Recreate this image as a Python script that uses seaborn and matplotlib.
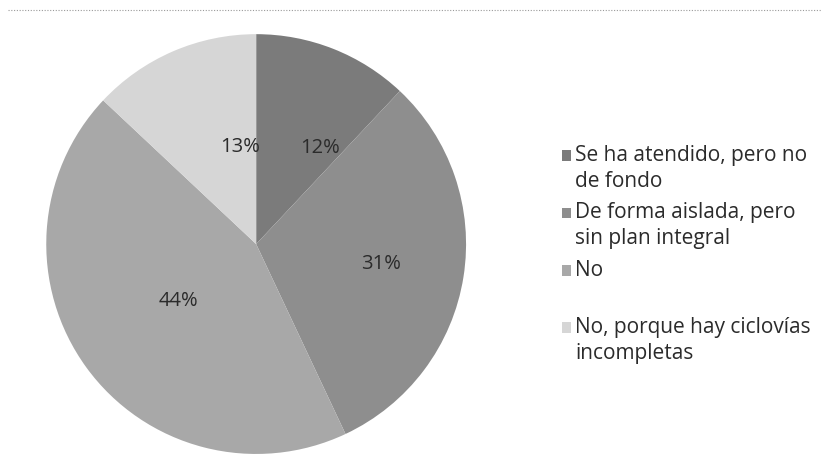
import matplotlib
matplotlib.use("Agg")
import matplotlib.pyplot as plt
import seaborn as sns
import numpy as np
from matplotlib.lines import Line2D
from matplotlib.patches import Rectangle
from matplotlib.legend_handler import HandlerPatch

# --- Data ---
categories = [
    "Se ha atendido, pero no\nde fondo",
    "De forma aislada, pero\nsin plan integral",
    "No\n",
    "No, porque hay ciclovías\nincompletas",
]
values = [12, 31, 44, 13]
colors = ["#7b7b7b", "#8e8e8e", "#a8a8a8", "#d6d6d6"]
# label placement: distance from centre (radius units) and angle offset (deg)
label_dist = [0.55, 0.6, 0.46, 0.47]
label_turn = [-12, 0, 0, -14]

sns.set_theme(style="white")
plt.rcParams['font.family'] = ['Open Sans', 'DejaVu Sans']

fig = plt.figure(figsize=(8.29, 4.68), dpi=100)
ax = fig.add_axes([0.0555, 0.03, 0.507, 0.897])

palette = sns.color_palette(colors)
wedges, texts, autotexts = ax.pie(
    values,
    colors=palette,
    startangle=90,
    counterclock=False,
    autopct='%1.0f%%',
    wedgeprops=dict(linewidth=0),
    textprops=dict(fontsize=14.5, color="#2b2b2b"),
)
ax.set_xlim(-1, 1)
ax.set_ylim(-1, 1)
ax.set_aspect('equal')

for w, t, d, turn in zip(wedges, autotexts, label_dist, label_turn):
    mid = np.deg2rad((w.theta1 + w.theta2) / 2 + turn)
    t.set_position((d * np.cos(mid), d * np.sin(mid)))


# legend swatch aligned with the first line of each label
def top_swatch(legend, orig_handle, xdescent, ydescent, width, height, fontsize):
    return Rectangle((-xdescent, -ydescent + 9.7), width, height)


leg = fig.legend(
    wedges, categories,
    loc='upper left',
    bbox_to_anchor=(0.6655, 0.712),
    frameon=False,
    borderpad=0,
    fontsize=15,
    handlelength=0.42,
    handleheight=0.42,
    handletextpad=0.22,
    labelspacing=0.5,
    labelcolor="#2b2b2b",
    handler_map={w: HandlerPatch(patch_func=top_swatch) for w in wedges},
)
for t in leg.get_texts():
    t.set_linespacing(1.3)

# dotted line at top of the frame
fig.add_artist(Line2D([0.01, 0.99], [0.978, 0.978], transform=fig.transFigure,
                      color="#9a9a9a", linestyle=(0, (1, 1.5)), linewidth=0.8))

fig.savefig("out.png", dpi=100)
